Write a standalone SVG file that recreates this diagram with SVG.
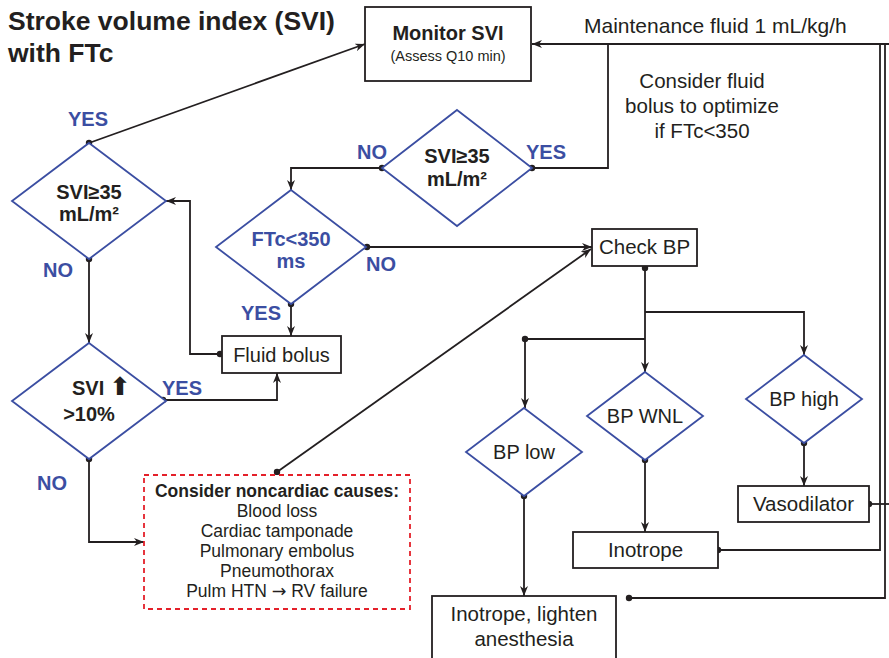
<svg xmlns="http://www.w3.org/2000/svg" width="889" height="658" viewBox="0 0 889 658">
  <style>
    .t { font-family: "Liberation Sans", Arial, sans-serif; fill: #231f20; }
    .b { font-weight: bold; }
    .blue { fill: #3b4ea2; }
    .box { fill: #ffffff; stroke: #231f20; stroke-width: 1.8; }
    .dia { fill: #ffffff; stroke: #3b4ea2; stroke-width: 1.8; stroke-linejoin: miter; }
    .dash { fill: #ffffff; stroke: #e4202a; stroke-width: 1.8; stroke-dasharray: 5 4; }
    .ln { fill: none; stroke: #231f20; stroke-width: 1.8; }
    .arr { marker-end: url(#ah); }
    .dot { fill: #231f20; }
  </style>
  <defs>
    <marker id="ah" markerUnits="userSpaceOnUse" markerWidth="11" markerHeight="8" refX="10" refY="4" orient="auto">
      <path d="M0,0 L10,4 L0,8 L3,4 z" fill="#231f20"/>
    </marker>
  </defs>

  <rect width="889" height="658" fill="#ffffff"/>

  <!-- title -->
  <text class="t b" x="8" y="30" font-size="26.5">Stroke volume index (SVI)</text>
  <text class="t b" x="8" y="62" font-size="26.5">with FTc</text>

  <!-- connectors -->
  <g id="connectors">
    <path class="ln arr" d="M889,44 H532"/>
    <path class="ln" d="M532,168 H608 V44"/>
    <path class="ln arr" d="M382,168 H291 V190"/>
    <path class="ln arr" d="M367,247 H592"/>
    <path class="ln arr" d="M291,304 V336"/>
    <path class="ln arr" d="M220,354 H190 V201 H166"/>
    <path class="ln arr" d="M89,143 L365,44"/>
    <path class="ln arr" d="M89,259 V343"/>
    <path class="ln arr" d="M163,400 H277 V373"/>
    <path class="ln arr" d="M89,459 V542 H144"/>
    <path class="ln arr" d="M277,472 L591,249"/>
    <path class="ln arr" d="M645,268 V372"/>
    <path class="ln arr" d="M645,312 H804 V355"/>
    <path class="ln arr" d="M525,339 H645 M525,339 V408"/>
    <path class="ln arr" d="M524,496 V596"/>
    <path class="ln arr" d="M645,460 V532"/>
    <path class="ln arr" d="M804,443 V486"/>
    <path class="ln" d="M869,504 H889"/>
    <path class="ln" d="M718,550 H880 V44"/>
    <path class="ln" d="M629,598 H885 V44"/>

    <circle class="dot" cx="532" cy="168" r="3.2"/>
    <circle class="dot" cx="382" cy="168" r="3.2"/>
    <circle class="dot" cx="367" cy="247" r="3.2"/>
    <circle class="dot" cx="291" cy="304" r="3.2"/>
    <circle class="dot" cx="220" cy="354" r="3.2"/>
    <circle class="dot" cx="89" cy="143" r="3.2"/>
    <circle class="dot" cx="89" cy="259" r="3.2"/>
    <circle class="dot" cx="163" cy="400" r="3.2"/>
    <circle class="dot" cx="89" cy="459" r="3.2"/>
    <circle class="dot" cx="277" cy="472" r="3.2"/>
    <circle class="dot" cx="645" cy="268" r="3.2"/>
    <circle class="dot" cx="525" cy="339" r="3.2"/>
    <circle class="dot" cx="524" cy="496" r="3.2"/>
    <circle class="dot" cx="645" cy="460" r="3.2"/>
    <circle class="dot" cx="804" cy="443" r="3.2"/>
    <circle class="dot" cx="869" cy="504" r="3.2"/>
    <circle class="dot" cx="718" cy="550" r="3.2"/>
    <circle class="dot" cx="629" cy="598" r="3.2"/>
  </g>

  <!-- connector labels -->
  <g id="labels" font-size="20">
    <text class="t b blue" x="68" y="126">YES</text>
    <text class="t b blue" x="43" y="277">NO</text>
    <text class="t b blue" x="357" y="159">NO</text>
    <text class="t b blue" x="526" y="159">YES</text>
    <text class="t b blue" x="366" y="271">NO</text>
    <text class="t b blue" x="241" y="320">YES</text>
    <text class="t b blue" x="162" y="395">YES</text>
    <text class="t b blue" x="37" y="490">NO</text>
  </g>
  <text class="t" x="584" y="33" font-size="21">Maintenance fluid 1 mL/kg/h</text>
  <g class="t" font-size="20.5" text-anchor="middle">
    <text x="702" y="88">Consider fluid</text>
    <text x="702" y="113">bolus to optimize</text>
    <text x="702" y="138">if FTc&lt;350</text>
  </g>

  <!-- nodes -->
  <g id="monitor-svi">
    <rect class="box" x="365" y="7" width="166" height="74"/>
    <text class="t b" x="448" y="40" font-size="20" text-anchor="middle">Monitor SVI</text>
    <text class="t" x="448" y="61" font-size="14.5" text-anchor="middle">(Assess Q10 min)</text>
  </g>

  <g id="svi-check-top">
    <polygon class="dia" points="457,110 532,168 457,226 382,168"/>
    <text class="t b" x="457" y="163" font-size="20" text-anchor="middle">SVI≥35</text>
    <text class="t b" x="457" y="186" font-size="20" text-anchor="middle">mL/m²</text>
  </g>

  <g id="svi-check-left">
    <polygon class="dia" points="89,143 166,201 89,259 12,201"/>
    <text class="t b" x="89" y="199" font-size="20" text-anchor="middle">SVI≥35</text>
    <text class="t b" x="89" y="221" font-size="20" text-anchor="middle">mL/m²</text>
  </g>

  <g id="ftc-check">
    <polygon class="dia" points="291,190 366,247 291,304 216,247"/>
    <text class="t b blue" x="291" y="246" font-size="20" text-anchor="middle">FTc&lt;350</text>
    <text class="t b blue" x="291" y="268" font-size="20" text-anchor="middle">ms</text>
  </g>

  <g id="svi-rise">
    <polygon class="dia" points="89,343 166,401 89,459 12,401"/>
    <text class="t b" x="72" y="395" font-size="20">SVI <tspan font-family="DejaVu Sans, sans-serif" font-size="25">⬆</tspan></text>
    <text class="t b" x="89" y="421" font-size="20" text-anchor="middle">&gt;10%</text>
  </g>

  <g id="fluid-bolus">
    <rect class="box" x="222" y="336" width="119" height="37"/>
    <text class="t" x="281.5" y="362" font-size="20" text-anchor="middle">Fluid bolus</text>
  </g>

  <g id="noncardiac">
    <rect class="dash" x="144" y="475" width="266" height="134"/>
    <g class="t" font-size="17.5" text-anchor="middle">
      <text class="t b" x="277" y="497">Consider noncardiac causes:</text>
      <text x="277" y="517">Blood loss</text>
      <text x="277" y="537">Cardiac tamponade</text>
      <text x="277" y="557">Pulmonary embolus</text>
      <text x="277" y="577">Pneumothorax</text>
      <text x="277" y="597">Pulm HTN <tspan font-family="DejaVu Sans, sans-serif">→</tspan> RV failure</text>
    </g>
  </g>

  <g id="check-bp">
    <rect class="box" x="592" y="229" width="105" height="37"/>
    <text class="t" x="644.5" y="254" font-size="20.5" text-anchor="middle">Check BP</text>
  </g>

  <g id="bp-low">
    <polygon class="dia" points="524,408 582,452 524,496 466,452"/>
    <text class="t" x="524" y="459" font-size="20" text-anchor="middle">BP low</text>
  </g>

  <g id="bp-wnl">
    <polygon class="dia" points="645,372 703,416 645,460 587,416"/>
    <text class="t" x="645" y="423" font-size="20" text-anchor="middle">BP WNL</text>
  </g>

  <g id="bp-high">
    <polygon class="dia" points="804,355 862,399 804,443 746,399"/>
    <text class="t" x="804" y="406" font-size="20" text-anchor="middle">BP high</text>
  </g>

  <g id="vasodilator">
    <rect class="box" x="738" y="486" width="131" height="36"/>
    <text class="t" x="803.5" y="511" font-size="20.5" text-anchor="middle">Vasodilator</text>
  </g>

  <g id="inotrope">
    <rect class="box" x="573" y="532" width="145" height="36"/>
    <text class="t" x="645.5" y="557" font-size="20.5" text-anchor="middle">Inotrope</text>
  </g>

  <g id="inotrope-lighten">
    <rect class="box" x="432" y="596" width="184" height="72"/>
    <text class="t" x="524" y="621" font-size="20.5" text-anchor="middle">Inotrope, lighten</text>
    <text class="t" x="524" y="646" font-size="20.5" text-anchor="middle">anesthesia</text>
  </g>
</svg>
